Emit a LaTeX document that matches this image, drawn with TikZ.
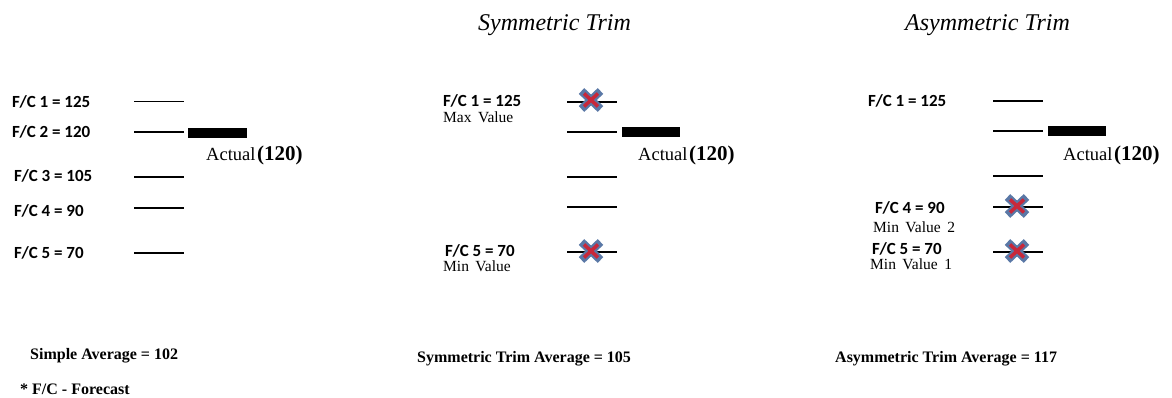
\documentclass[tikz,border=0pt]{standalone}
\usepackage{fontspec}
\setmainfont{Liberation Serif}
\newfontfamily\calib{Carlito}
\usepackage{tikz}
\usetikzlibrary{calc}
\definecolor{crossblue}{HTML}{5A78A6}
\definecolor{crossred}{HTML}{C8283A}

\newcommand{\fcfont}{\calib\bfseries\fontsize{17}{19}\selectfont}
\newcommand{\actualtext}{{\fontsize{18.5}{20}\selectfont Actual}\,{\fontsize{21}{22}\selectfont\bfseries(120)}}

\tikzset{
  fclabel/.style={anchor=base west, inner sep=0pt, font=\fcfont},
  note/.style={anchor=base west, inner sep=0pt, font=\fontsize{15.5}{17}\selectfont},
  sumtext/.style={anchor=base west, inner sep=0pt, font=\bfseries\fontsize{16}{18}\selectfont},
  title/.style={anchor=base west, inner sep=0pt, font=\itshape\fontsize{24}{26}\selectfont},
  tick/.style={line width=1.5pt},
  actualbar/.style={fill=black},
  cutmark/.pic={
    \draw[crossblue, line width=8pt] (-9.5,-9) -- (9.5,9) (-9.5,9) -- (9.5,-9);
    \draw[crossred, line width=3.5pt] (-7,-6.5) -- (7,6.5) (-7,6.5) -- (7,-6.5);
  }
}

\begin{document}
\begin{tikzpicture}[x=1pt, y=-1pt]
  \useasboundingbox (0,0) rectangle (1172,398);

  % simple average
  \node[fclabel] (s1) at (12,108) {F/C 1 = 125};
  \node[fclabel] (s2) at (12,138) {F/C 2 = 120};
  \node[fclabel] (s3) at (14,182) {F/C 3 = 105};
  \node[fclabel] (s4) at (14,216) {F/C 4 = 90};
  \node[fclabel] (s5) at (14,258) {F/C 5 = 70};
  \foreach \y in {101.5,132,177,208,253}
    \draw[tick] (134,\y) -- (184,\y);
  \fill[actualbar] (188,128) rectangle (247,138);
  \node[anchor=base west, inner sep=0pt] (sact) at (206,161) {\actualtext};
  \node[sumtext] (savg) at (30,359) {Simple Average = 102};
  \node[sumtext] (fcnote) at (20,394) {* F/C - Forecast};

  % symmetric trim
  \node[title] (symtitle) at (478,31) {Symmetric Trim};
  \node[fclabel] (m1) at (443,107) {F/C 1 = 125};
  \node[note] (mmax) at (443,123) {Max\, Value};
  \node[fclabel] (m5) at (445,256) {F/C 5 = 70};
  \node[note] (mmin) at (443,271) {Min\, Value};
  \foreach \y in {102,132,177,207,252}
    \draw[tick] (567,\y) -- (617,\y);
  \pic at (591,100) {cutmark};
  \pic at (591,251) {cutmark};
  \fill[actualbar] (622,127) rectangle (680,137);
  \node[anchor=base west, inner sep=0pt] (mact) at (638,161) {\actualtext};
  \node[sumtext] (mavg) at (417,362) {Symmetric Trim Average = 105};

  % asymmetric trim
  \node[title] (asymtitle) at (905,31) {Asymmetric Trim};
  \node[fclabel] (a1) at (868,107) {F/C 1 = 125};
  \node[fclabel] (a4) at (875,213) {F/C 4 = 90};
  \node[note] (amin2) at (873,233) {Min\, Value\, 2};
  \node[fclabel] (a5) at (872,254) {F/C 5 = 70};
  \node[note] (amin1) at (870,269) {Min\, Value\, 1};
  \foreach \y in {101,131,176,207,252}
    \draw[tick] (993,\y) -- (1043,\y);
  \pic at (1017,206) {cutmark};
  \pic at (1017,251) {cutmark};
  \fill[actualbar] (1048,126) rectangle (1106,136);
  \node[anchor=base west, inner sep=0pt] (aact) at (1063,161) {\actualtext};
  \node[sumtext] (aavg) at (835,362) {Asymmetric Trim Average = 117};
\end{tikzpicture}
\end{document}
